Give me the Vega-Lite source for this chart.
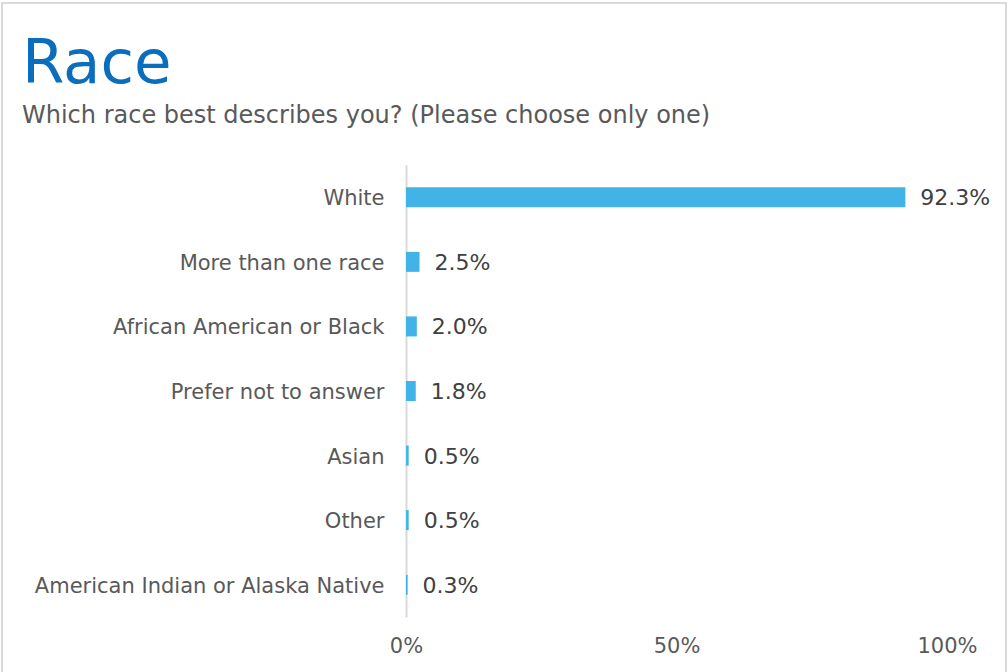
{
  "$schema": "https://vega.github.io/schema/vega-lite/v6.json",
  "width": 1004,
  "height": 671,
  "autosize": {"type": "none"},
  "padding": {"left": 2, "top": 3, "right": 2, "bottom": -2},
  "background": "white",
  "title": {
    "text": "Race",
    "subtitle": "Which race best describes you? (Please choose only one)",
    "anchor": "start",
    "frame": "group",
    "dx": 20,
    "offset": -126,
    "fontSize": 61,
    "fontWeight": "normal",
    "color": "#0A6EBD",
    "subtitleFontSize": 24,
    "subtitleColor": "#595959",
    "subtitlePadding": 8,
    "font": "DejaVu Sans",
    "subtitleFont": "DejaVu Sans"
  },
  "data": {
    "values": [
      {"race": "White", "pct": 0.923},
      {"race": "More than one race", "pct": 0.025},
      {"race": "African American or Black", "pct": 0.020},
      {"race": "Prefer not to answer", "pct": 0.018},
      {"race": "Asian", "pct": 0.005},
      {"race": "Other", "pct": 0.005},
      {"race": "American Indian or Alaska Native", "pct": 0.003}
    ]
  },
  "encoding": {
    "y": {
      "field": "race",
      "type": "nominal",
      "sort": null,
      "scale": {"range": [162, 614], "paddingInner": 0.69, "paddingOuter": 0.345},
      "axis": {
        "title": null,
        "offset": -404,
        "ticks": false,
        "labelFontSize": 21,
        "labelColor": "#595959",
        "labelFont": "DejaVu Sans",
        "labelPadding": 22,
        "labelOffset": 2,
        "labelLimit": 500,
        "domainColor": "#D9D9D9",
        "domainWidth": 2
      }
    },
    "x": {
      "field": "pct",
      "type": "quantitative",
      "scale": {"domain": [0, 1], "range": [404, 945]},
      "axis": {
        "title": null,
        "offset": -57,
        "values": [0, 0.5, 1],
        "format": ".0%",
        "grid": false,
        "domain": false,
        "ticks": false,
        "labelFlush": false,
        "labelFontSize": 21,
        "labelColor": "#595959",
        "labelFont": "DejaVu Sans",
        "labelPadding": 18
      }
    }
  },
  "layer": [
    {"mark": {"type": "bar", "color": "#41B3E6"}},
    {
      "mark": {"type": "text", "align": "left", "baseline": "middle", "dx": 15, "dy": 1, "fontSize": 22, "color": "#404040", "font": "DejaVu Sans"},
      "encoding": {"text": {"field": "pct", "type": "quantitative", "format": ".1%"}}
    }
  ],
  "config": {"view": {"stroke": "#D9D9D9", "strokeWidth": 2}}
}
